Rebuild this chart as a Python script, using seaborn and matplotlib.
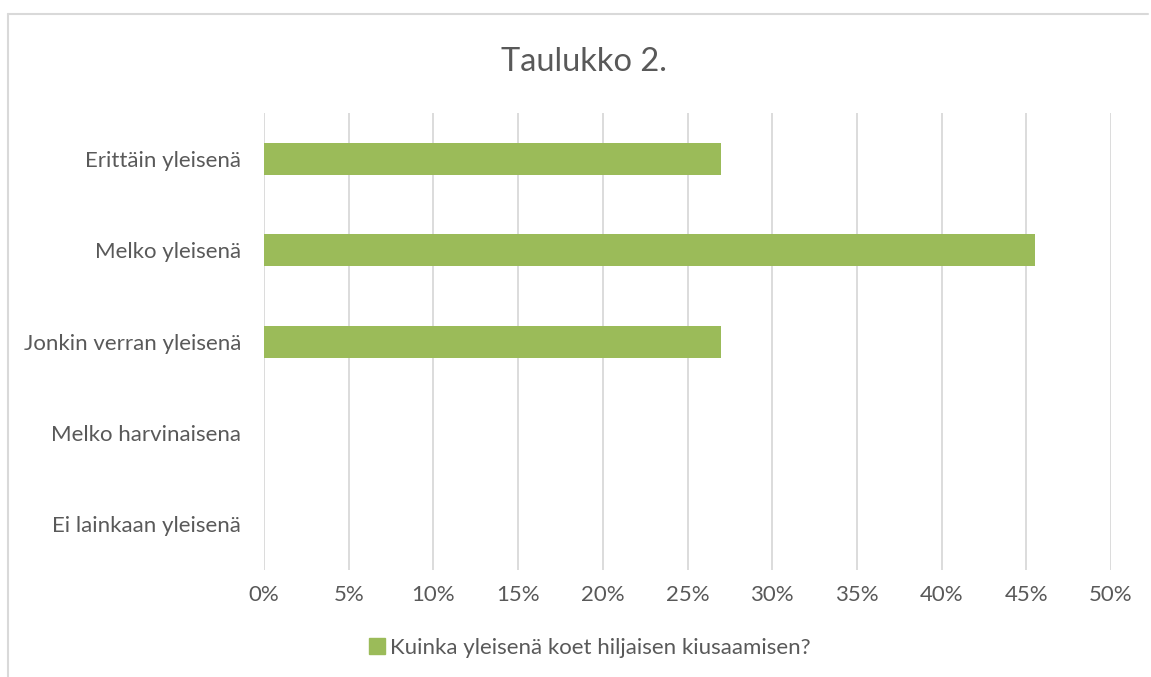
import pandas as pd
import matplotlib.pyplot as plt
import seaborn as sns
from matplotlib.ticker import FuncFormatter, MultipleLocator
from matplotlib.lines import Line2D

sns.set_theme(style="white")
plt.rcParams['font.family'] = ['Lato', 'DejaVu Sans']

# Data
categories = ['Erittäin yleisenä', 'Melko yleisenä', 'Jonkin verran yleisenä',
              'Melko harvinaisena', 'Ei lainkaan yleisenä']
values = [27.0, 45.5, 27.0, 0.0, 0.0]
series_name = 'Kuinka yleisenä koet hiljaisen kiusaamisen?'

df = pd.DataFrame({'category': categories, 'value': values})

bar_color = '#9BBB59'
text_color = '#595959'
grid_color = '#D9D9D9'

fig = plt.figure(figsize=(11.51, 6.77), dpi=100)
ax = fig.add_axes([0.2294, 0.158, 0.7359, 0.675])

sns.barplot(data=df, x='value', y='category', orient='h', color=bar_color,
            width=0.35, saturation=1, linewidth=0, ax=ax)

ax.set_xlim(0, 50)
ax.xaxis.set_major_locator(MultipleLocator(5))
ax.xaxis.set_major_formatter(FuncFormatter(lambda v, p: f'{v:.0f}%'))
ax.set_axisbelow(True)
ax.grid(axis='x', color=grid_color, linewidth=1.3)
ax.grid(axis='y', visible=False)
for s in ax.spines.values():
    s.set_visible(False)
ax.set_xlabel('')
ax.set_ylabel('')
ax.tick_params(axis='x', length=0, pad=11, labelsize=16, labelcolor=text_color)
ax.tick_params(axis='y', length=0, pad=16.5, labelsize=16, labelcolor=text_color)

fig.text(0.5075, 0.908, 'Taulukko 2.', ha='center', va='center',
         fontsize=23.5, color=text_color)

handle = Line2D([], [], marker='s', linestyle='none', markersize=11,
                markerfacecolor=bar_color, markeredgecolor=bar_color)
fig.legend([handle], [series_name], loc='center', bbox_to_anchor=(0.512, 0.043),
           frameon=False, fontsize=16, labelcolor=text_color,
           handletextpad=0.15, handlelength=0.8)

# chart frame (Excel-like border)
fig.add_artist(Line2D([0.007, 0.007], [0.0, 0.979], color=grid_color, linewidth=1.5,
                      transform=fig.transFigure))
fig.add_artist(Line2D([0.007, 0.997], [0.979, 0.979], color=grid_color, linewidth=1.5,
                      transform=fig.transFigure))

fig.savefig('out.png', dpi=100, facecolor='white')
